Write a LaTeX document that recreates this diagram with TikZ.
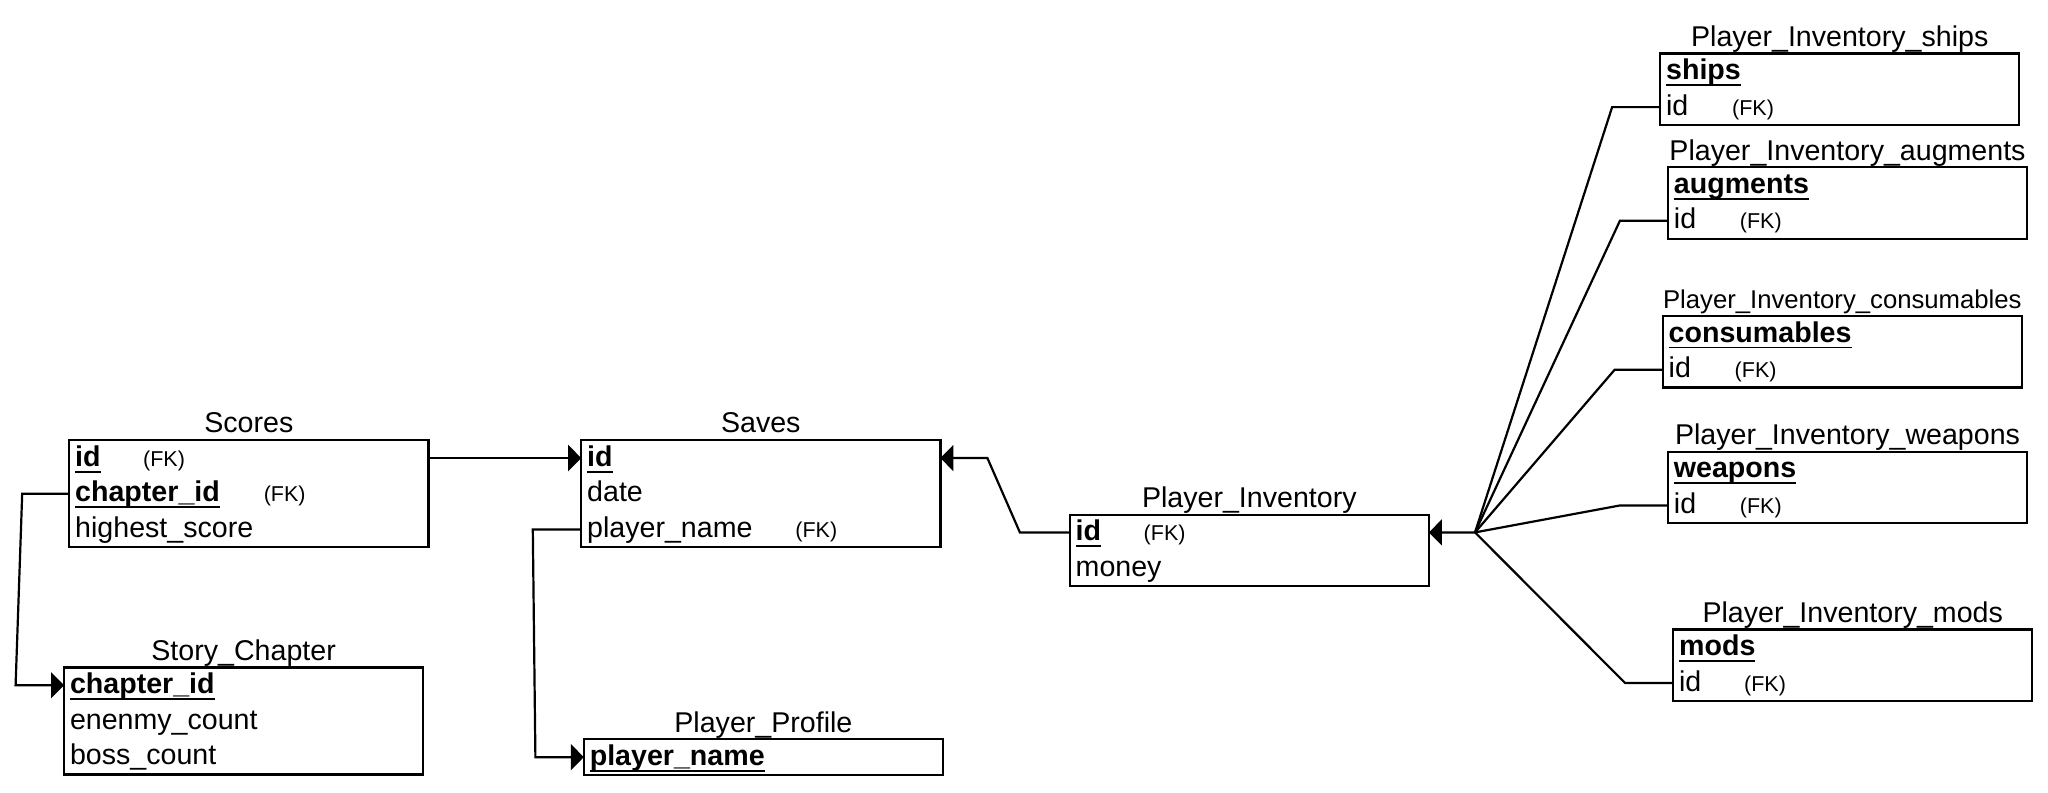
\documentclass[tikz,border=0pt]{standalone}
\usepackage{fontspec}
\setmainfont{Liberation Sans}
\usetikzlibrary{positioning,arrows.meta}
\newcommand\keyfield[1]{\setbox0\hbox{\textbf{#1}}\rlap{\rule[-3.2pt]{\wd0}{0.9pt}}\box0}
\newcommand\fkmark{{\fontsize{10.75pt}{12pt}\selectfont (FK)}}
\tikzset{
  every path/.style={line width=1.1pt},
  row/.style={anchor=north west, minimum height=17.85pt, text width=173.6pt, inner xsep=3pt, inner ysep=0pt,
    outer sep=0pt, align=left, text height=11.5pt, text depth=3.4pt, font=\fontsize{14.3pt}{17pt}\selectfont},
  nextrow/.style={row, below=0pt of #1},
  title/.style={inner sep=0pt, outer sep=0pt, text depth=0pt, font=\fontsize{14.3pt}{17pt}\selectfont},
  tblbox/.style={draw},
  fk/.style={-{Triangle[length=6.5pt,width=13pt]}}
}

\begin{document}
\begin{tikzpicture}[x=0.5pt,y=-0.5pt]
  \useasboundingbox (0,0) rectangle (2048,792);

  \node[row] (scores1) at (69.2,440.2) {\makebox[34pt][l]{\keyfield{id}}\fkmark};
  \node[nextrow=scores1] (scores2) {\makebox[94.3pt][l]{\keyfield{chapter\_id}}\fkmark};
  \node[nextrow=scores2] (scores3) {highest\_score};
  \draw[tblbox] (scores1.north west) rectangle (scores3.south east);
  \node[title, above=3.7pt of scores1] (scorestitle) {Scores};

  \node[row] (saves1) at (581.2,440.2) {\keyfield{id}};
  \node[nextrow=saves1] (saves2) {date};
  \node[nextrow=saves2] (saves3) {\makebox[104.1pt][l]{player\_name}\fkmark};
  \draw[tblbox] (saves1.north west) rectangle (saves3.south east);
  \node[title, above=3.7pt of saves1] (savestitle) {Saves};

  \node[row] (story1) at (64,667.4) {\keyfield{chapter\_id}};
  \node[nextrow=story1] (story2) {enenmy\_count};
  \node[nextrow=story2] (story3) {boss\_count};
  \draw[tblbox] (story1.north west) rectangle (story3.south east);
  \node[title, above=3.7pt of story1] (storytitle) {Story\_Chapter};

  \node[row] (profile1) at (583.8,739.3) {\keyfield{player\_name}};
  \draw[tblbox] (profile1.north west) rectangle (profile1.south east);
  \node[title, above=3.4pt of profile1] (profiletitle) {Player\_Profile};

  \node[row] (inv1) at (1069.7,514.6) {\makebox[34pt][l]{\keyfield{id}}\fkmark};
  \node[nextrow=inv1] (inv2) {money};
  \draw[tblbox] (inv1.north west) rectangle (inv2.south east);
  \node[title, above=3.4pt of inv1] (invtitle) {Player\_Inventory};

  \node[row] (ships1) at (1660.1,53.6) {\keyfield{ships}};
  \node[nextrow=ships1] (ships2) {\makebox[33pt][l]{id}\fkmark};
  \draw[tblbox] (ships1.north west) rectangle (ships2.south east);
  \node[title, above=3.6pt of ships1] (shipstitle) {Player\_Inventory\_ships};

  \node[row] (augments1) at (1667.9,167.2) {\keyfield{augments}};
  \node[nextrow=augments1] (augments2) {\makebox[33pt][l]{id}\fkmark};
  \draw[tblbox] (augments1.north west) rectangle (augments2.south east);
  \node[title, above=3.6pt of augments1] (augmentstitle) {Player\_Inventory\_augments};

  \node[row] (consumables1) at (1662.7,316.1) {\keyfield{consumables}};
  \node[nextrow=consumables1] (consumables2) {\makebox[33pt][l]{id}\fkmark};
  \draw[tblbox] (consumables1.north west) rectangle (consumables2.south east);
  \node[title, font=\fontsize{12.85pt}{15pt}\selectfont, above=3.6pt of consumables1] (consumablestitle) {Player\_Inventory\_consumables};

  \node[row] (weapons1) at (1667.9,451.9) {\keyfield{weapons}};
  \node[nextrow=weapons1] (weapons2) {\makebox[33pt][l]{id}\fkmark};
  \draw[tblbox] (weapons1.north west) rectangle (weapons2.south east);
  \node[title, above=3.6pt of weapons1] (weaponstitle) {Player\_Inventory\_weapons};

  \node[row] (mods1) at (1673.1,629.5) {\keyfield{mods}};
  \node[nextrow=mods1] (mods2) {\makebox[32.5pt][l]{id}\fkmark};
  \draw[tblbox] (mods1.north west) rectangle (mods2.south east);
  \node[title, above=3.6pt of mods1] (modstitle) {Player\_Inventory\_mods};

  \draw[fk] (scores1.east) -- (saves1.west);
  \draw[fk] (scores2.west) -- ++(-23.5pt,0) -- ([xshift=-24.2pt]story1.west) -- (story1.west);
  \draw[fk] (saves3.west) -- ++(-24.2pt,0) -- ([xshift=-24.2pt]profile1.west) -- (profile1.west);
  \draw[fk] (inv1.west) -- ++(-24.9pt,0) -- ([xshift=23.5pt]saves1.east) -- (saves1.east);

  \coordinate (hub) at (1475,532.4);
  \draw[fk] (hub) -- (inv1.east);
  \foreach \tname in {ships,augments,consumables,weapons,mods}
    \draw (hub) -- ([xshift=-24pt]\tname2.west) -- (\tname2.west);
\end{tikzpicture}
\end{document}
